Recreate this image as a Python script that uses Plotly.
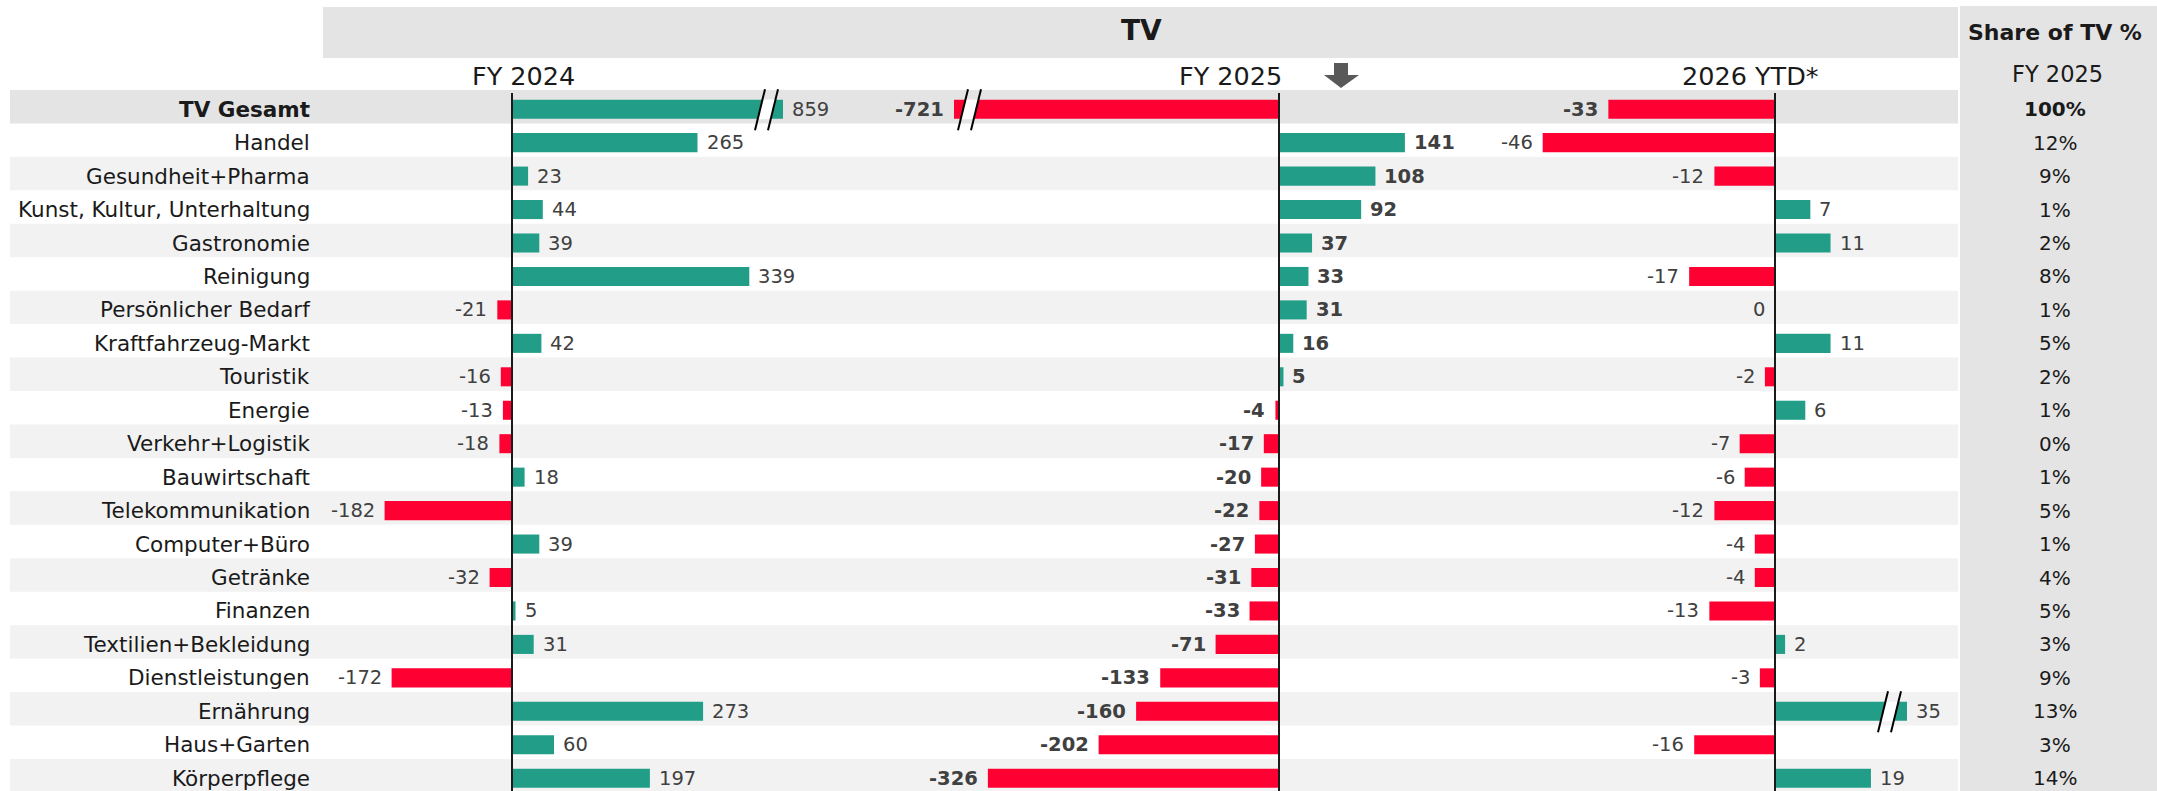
import plotly.graph_objects as go

# ---- data -------------------------------------------------------------
categories = [
    "TV Gesamt", "Handel", "Gesundheit+Pharma", "Kunst, Kultur, Unterhaltung",
    "Gastronomie", "Reinigung", "Persönlicher Bedarf", "Kraftfahrzeug-Markt",
    "Touristik", "Energie", "Verkehr+Logistik", "Bauwirtschaft",
    "Telekommunikation", "Computer+Büro", "Getränke", "Finanzen",
    "Textilien+Bekleidung", "Dienstleistungen", "Ernährung", "Haus+Garten",
    "Körperpflege",
]
fy2024 = [859, 265, 23, 44, 39, 339, -21, 42, -16, -13, -18, 18, -182, 39, -32, 5, 31, -172, 273, 60, 197]
fy2025 = [-721, 141, 108, 92, 37, 33, 31, 16, 5, -4, -17, -20, -22, -27, -31, -33, -71, -133, -160, -202, -326]
ytd2026 = [-33, -46, -12, 7, 11, -17, 0, 11, -2, 6, -7, -6, -12, -4, -4, -13, 2, -3, 35, -16, 19]
share_fy2025 = ["100%", "12%", "9%", "1%", "2%", "8%", "1%", "5%", "2%", "1%", "0%",
                "1%", "5%", "1%", "4%", "5%", "3%", "9%", "13%", "3%", "14%"]
panel_titles = ["FY 2024", "FY 2025", "2026 YTD*"]
main_title = "TV"
share_title = "Share of TV %"
share_sub = "FY 2025"

# ---- styling ----------------------------------------------------------
W, H = 2157, 791
FONT = "DejaVu Sans"
GREEN = "#229E88"
RED = "#FF0033"
BAND_DARK = "#E4E4E4"
BAND_LIGHT = "#F2F2F2"
TXT = "#1A1A1A"
VAL = "#404040"
ROW_H = 33.45
ROW0 = 109.2  # pixel centre of first row


def px(x):
    return x / W


def py(y):
    return 1 - y / H


# panel geometry: zero position (px), pixels per unit, visible domain (px)
panels = [
    dict(vals=fy2024, zero=512, scale=0.70, dom=(0, 783), title_x=523, bold=False),
    dict(vals=fy2025, zero=1279, scale=0.893, dom=(954, 1460), title_x=1230, bold=True),
    dict(vals=ytd2026, zero=1775, scale=5.05, dom=(1470, 1907), title_x=1750, bold=False),
]

n = len(categories)
rows = list(range(n))
y_top = -ROW0 / ROW_H
y_bot = (H - ROW0) / ROW_H

fig = go.Figure()
shapes = []
annotations = []

# row bands
for i in rows:
    if i == 0:
        col = BAND_DARK
    elif i % 2 == 0:
        col = BAND_LIGHT
    else:
        continue
    shapes.append(dict(type="rect", xref="paper", yref="y", layer="below",
                       x0=px(10), x1=px(1958), y0=i - 0.575, y1=i + 0.425,
                       fillcolor=col, line=dict(width=0)))

# header boxes
shapes.append(dict(type="rect", xref="paper", yref="paper", layer="below",
                   x0=px(323), x1=px(1958), y0=py(58), y1=py(7),
                   fillcolor=BAND_DARK, line=dict(width=0)))
shapes.append(dict(type="rect", xref="paper", yref="paper", layer="below",
                   x0=px(1960), x1=1, y0=0, y1=py(6),
                   fillcolor=BAND_DARK, line=dict(width=0)))

for k, p in enumerate(panels):
    ax = "x" if k == 0 else f"x{k + 1}"
    axname = "xaxis" if k == 0 else f"xaxis{k + 1}"
    r0 = (p["dom"][0] - p["zero"]) / p["scale"]
    r1 = (p["dom"][1] - p["zero"]) / p["scale"]
    fig.update_layout(**{axname: dict(domain=[px(p["dom"][0]), px(p["dom"][1])],
                                      range=[r0, r1], visible=False, fixedrange=True,
                                      anchor="y")})
    colors = [GREEN if v > 0 else RED for v in p["vals"]]
    fig.add_trace(go.Bar(x=p["vals"], y=rows, orientation="h", width=0.57,
                         marker=dict(color=colors, line=dict(width=0)),
                         xaxis=ax, yaxis="y", hoverinfo="skip", showlegend=False))
    # zero line
    shapes.append(dict(type="line", xref=ax, yref="paper", x0=0, x1=0,
                       y0=0, y1=py(93), line=dict(color=TXT, width=2)))
    # value labels
    for i, v in enumerate(p["vals"]):
        xv = max(min(v, r1), r0)
        bold = p["bold"] or (i == 0 and k == 2)
        txt = f"<b>{v}</b>" if bold else f"{v}"
        annotations.append(dict(xref=ax, yref="y", x=xv, y=i, text=txt, showarrow=False,
                                xanchor="left" if v > 0 else "right",
                                xshift=7 if v > 0 else -8,
                                font=dict(family=FONT, size=19.5, color=VAL)))
    # panel title
    annotations.append(dict(xref="paper", yref="paper", x=px(p["title_x"]), y=py(76),
                            text=panel_titles[k], showarrow=False, xanchor="center",
                            yanchor="middle", font=dict(family=FONT, size=25.5, color=TXT)))

# axis break markers (bars truncated at the panel edge)
def axis_break(b, yc):
    """Two slanted strokes with a white gap, b = lower-left stroke x (px)."""
    yb, yt = yc + 21, yc - 20
    slope = 10 / (yb - yt)
    hb, ht = yc + 10, yc - 10
    xa = b + (yb - hb) * slope
    xb = b + (yb - ht) * slope
    gap = f"M {px(xa)} {py(hb)} L {px(xb)} {py(ht)} L {px(xb + 13)} {py(ht)} L {px(xa + 13)} {py(hb)} Z"
    shapes.append(dict(type="path", xref="paper", yref="paper", path=gap,
                       fillcolor="white", line=dict(width=0)))
    for off in (0, 13):
        shapes.append(dict(type="line", xref="paper", yref="paper",
                           x0=px(b + off), y0=py(yb), x1=px(b + off + 10), y1=py(yt),
                           line=dict(color="black", width=2)))


axis_break(755, ROW0)
axis_break(958, ROW0)
axis_break(1878, ROW0 + 18 * ROW_H)

# category labels
for i, c in enumerate(categories):
    annotations.append(dict(xref="paper", yref="y", x=px(312), y=i,
                            text=f"<b>{c}</b>" if i == 0 else c, showarrow=False,
                            xanchor="right", font=dict(family=FONT, size=21.5, color=TXT)))

# share column
for i, s in enumerate(share_fy2025):
    annotations.append(dict(xref="paper", yref="y", x=px(2055), y=i,
                            text=f"<b>{s}</b>" if i == 0 else s, showarrow=False,
                            xanchor="center", font=dict(family=FONT, size=20, color=TXT)))
annotations.append(dict(xref="paper", yref="paper", x=px(2055), y=py(32), text=f"<b>{share_title}</b>",
                        showarrow=False, xanchor="center", yanchor="middle",
                        font=dict(family=FONT, size=22, color=TXT)))
annotations.append(dict(xref="paper", yref="paper", x=px(2057), y=py(74), text=share_sub,
                        showarrow=False, xanchor="center", yanchor="middle",
                        font=dict(family=FONT, size=22.5, color=TXT)))
annotations.append(dict(xref="paper", yref="paper", x=px(1141), y=py(30), text=f"<b>{main_title}</b>",
                        showarrow=False, xanchor="center", yanchor="middle",
                        font=dict(family=FONT, size=28, color=TXT)))

# downward arrow next to the FY 2025 heading
arrow = (f"M {px(1334)} {py(63)} L {px(1348)} {py(63)} L {px(1348)} {py(75)} "
         f"L {px(1359)} {py(75)} L {px(1341)} {py(88)} L {px(1324)} {py(75)} "
         f"L {px(1334)} {py(75)} Z")
shapes.append(dict(type="path", xref="paper", yref="paper", path=arrow,
                   fillcolor="#595959", line=dict(width=0)))

fig.update_layout(
    width=W, height=H,
    margin=dict(l=0, r=0, t=0, b=0),
    paper_bgcolor="white", plot_bgcolor="rgba(0,0,0,0)",
    yaxis=dict(range=[y_bot, y_top], visible=False, fixedrange=True, domain=[0, 1]),
    barmode="overlay",
    shapes=shapes, annotations=annotations,
    font=dict(family=FONT),
)

fig.write_html("out.html", config={"displayModeBar": False})
